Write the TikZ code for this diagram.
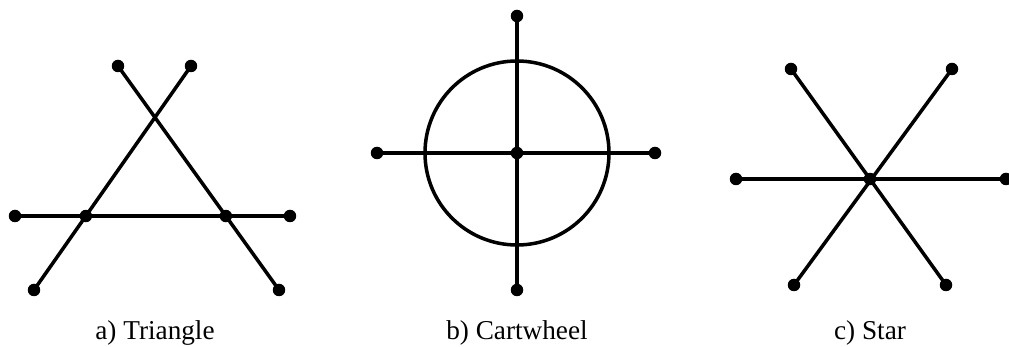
\documentclass[tikz,border=0pt]{standalone}
\usepackage{fontspec}
\setmainfont{Liberation Serif}
\usetikzlibrary{calc}

\begin{document}
\begin{tikzpicture}[x=0.02cm, y=-0.02cm, line width=2pt,
			dot/.style={circle, fill=black, draw=none, inner sep=0pt, minimum size=0.25cm},
			capt/.style={anchor=base, inner sep=0pt, font=\fontsize{15.5pt}{18pt}\selectfont}]
			\useasboundingbox (0,0) rectangle (1009,347);
			% a) triangle: three crossing lines, dots at the ends
			\node[dot] (ta) at (118,66) {};
			\node[dot] (tb) at (191,66) {};
			\node[dot] (tc) at (15,216) {};
			\node[dot] (td) at (290,216) {};
			\node[dot] (te) at (34,290) {};
			\node[dot] (tf) at (279,290) {};
			\draw (ta.center) -- (tf.center);
			\draw (tb.center) -- (te.center);
			\draw (tc.center) -- (td.center);
			\node[dot] (tl) at (intersection of tb--te and tc--td) {};
			\node[dot] (tr) at (intersection of ta--tf and tc--td) {};
			\node[capt] (tcap) at (155,340) {a) Triangle};
			% b) cartwheel: circle with cross
			\node[dot] (cc) at (517,153) {};
			\node[dot] (cn) at (517,16) {};
			\node[dot] (cs) at (517,290) {};
			\node[dot] (cw) at (377,153) {};
			\node[dot] (ce) at (655,153) {};
			\draw (cn.center) -- (cs.center);
			\draw (cw.center) -- (ce.center);
			\draw (cc.center) circle (92);
			\node[capt] (ccap) at (517,340) {b) Cartwheel};
			% c) star: three lines through one point
			\node[dot] (sa) at (791,69) {};
			\node[dot] (sb) at (952,69) {};
			\node[dot] (sw) at (736,179) {};
			\node[dot] (se) at (1006,179) {};
			\node[dot] (sc) at (794,285) {};
			\node[dot] (sd) at (946,285) {};
			\draw (sa.center) -- (sd.center);
			\draw (sb.center) -- (sc.center);
			\draw (sw.center) -- (se.center);
			\node[dot] (sm) at (intersection of sa--sd and sw--se) {};
			\node[capt] (scap) at (870,340) {c) Star};
		\end{tikzpicture}
\end{document}
